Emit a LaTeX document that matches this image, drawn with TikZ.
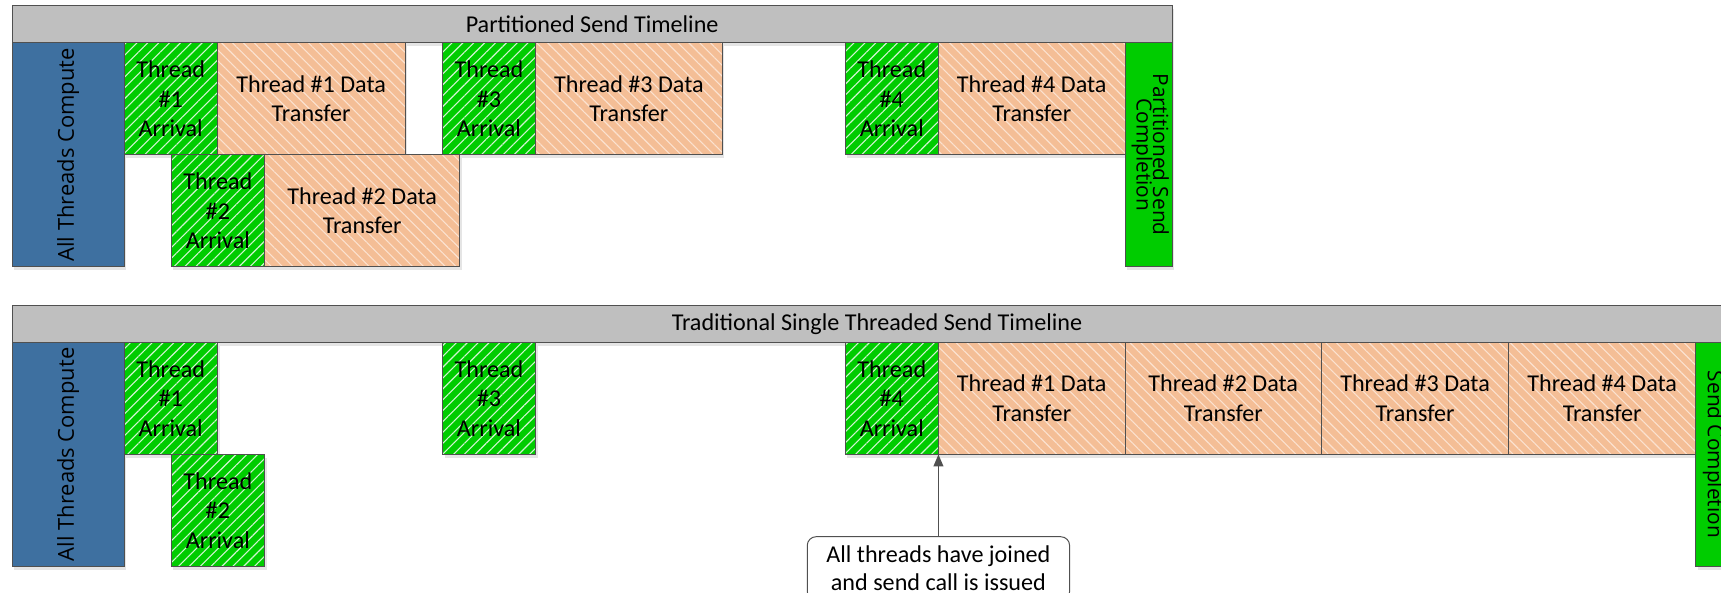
\documentclass[tikz,border=0pt]{standalone}
\usepackage{fontspec}
\setmainfont{Carlito}
\newfontfamily\sidefont{Open Sans}
\newcommand\sidetextfont{\sidefont\fontsize{19}{15}\selectfont\lineskiplimit=-50pt\relax}
\newcommand\computefont{\sidefont\fontsize{20}{24}\selectfont}
\usetikzlibrary{patterns.meta,shadows,arrows.meta}
\definecolor{hdrgray}{HTML}{BFBFBF}
\definecolor{edge}{HTML}{505050}
\definecolor{computeblue}{HTML}{3E70A0}
\definecolor{arrivegreen}{HTML}{00CC00}
\definecolor{xferpeach}{HTML}{F4BE96}
\definecolor{greenstripe}{HTML}{D0F5D0}
\definecolor{peachstripe}{HTML}{FBE2D0}

\begin{document}
\begin{tikzpicture}[x=1pt,y=-1pt,
  every node/.style={inner sep=0pt, outer sep=0pt, align=center,
    font=\fontsize{22}{27}\selectfont},
  outline/.style={postaction={draw=edge, line width=0.9pt}},
  blk/.style={anchor=north west,
    drop shadow={shadow xshift=2pt, shadow yshift=-3pt, fill=black!10, opacity=1}},
  header/.style={blk, fill=hdrgray, minimum height=34pt, outline},
  compute/.style={blk, fill=computeblue, minimum width=102pt, minimum height=204pt, outline},
  arrival/.style={blk, fill=arrivegreen, minimum width=85pt, minimum height=102pt,
    postaction={pattern={Lines[angle=45,distance=7pt,line width=1pt]}, pattern color=greenstripe},
    outline},
  xfer/.style={blk, fill=xferpeach, minimum height=102pt,
    postaction={pattern={Lines[angle=-45,distance=7pt,line width=1pt]}, pattern color=peachstripe},
    outline},
  done/.style={blk, fill=arrivegreen, minimum width=43pt, minimum height=204pt, outline},
  sidetext/.style={font=\sidetextfont},
  computetext/.style={font=\computefont, rotate=90},
  note/.style={draw=edge, line width=0.9pt, fill=white, rounded corners=8pt,
    anchor=north, minimum width=239pt, inner ysep=4pt, minimum height=58pt,
    font=\fontsize{22}{25.5}\selectfont},
  pointer/.style={draw=edge, line width=1.3pt, -{Triangle[length=11pt,width=9pt]}}
]
\useasboundingbox (0,0) rectangle (1568,540);
\fill[white] (0,0) rectangle (1568,540);

% ---- partitioned send timeline ----
\node[header, minimum width=1057pt] (ph) at (11,5) {Partitioned Send Timeline};
\node[compute] (pc) at (11,39) {};
\node[computetext] at (pc.center) {All Threads Compute};

\node[arrival] (p1a) at (113,39) {Thread\\\#1\\Arrival};
\node[xfer, minimum width=171pt] (p1x) at (p1a.north east) {Thread \#1 Data\\Transfer};
\node[arrival] (p3a) at (403,39) {Thread\\\#3\\Arrival};
\node[xfer, minimum width=170pt] (p3x) at (p3a.north east) {Thread \#3 Data\\Transfer};
\node[arrival] (p4a) at (770,39) {Thread\\\#4\\Arrival};
\node[xfer, minimum width=170pt] (p4x) at (p4a.north east) {Thread \#4 Data\\Transfer};
\node[done] (pd) at (p4x.north east) {};
\node[sidetext, rotate=-90] at ([xshift=1.5pt]pd.center) {Partitioned Send\\Completion};

\node[arrival] (p2a) at (156,141) {Thread\\\#2\\Arrival};
\node[xfer, minimum width=178pt] (p2x) at (p2a.north east) {Thread \#2 Data\\Transfer};

% ---- traditional single threaded send timeline ----
\node[header, minimum width=1576pt] (th) at (11,278) {Traditional Single Threaded Send Timeline};
\node[compute] (tc) at (11,312) {};
\node[computetext] at (tc.center) {All Threads Compute};

\node[arrival] (t1a) at (113,312) {Thread\\\#1\\Arrival};
\node[arrival] (t3a) at (403,312) {Thread\\\#3\\Arrival};
\node[arrival] (t4a) at (770,312) {Thread\\\#4\\Arrival};
\node[xfer, minimum width=170pt] (t1x) at (t4a.north east) {Thread \#1 Data\\Transfer};
\node[xfer, minimum width=179pt] (t2x) at (t1x.north east) {Thread \#2 Data\\Transfer};
\node[xfer, minimum width=170.5pt] (t3x) at (t2x.north east) {Thread \#3 Data\\Transfer};
\node[xfer, minimum width=170.5pt] (t4x) at (t3x.north east) {Thread \#4 Data\\Transfer};
\node[done] (td) at (t4x.north east) {};
\node[sidetext, rotate=-90, anchor=base] at (1556,414) {Send Completion};

\node[arrival] (t2a) at (156,414) {Thread\\\#2\\Arrival};

% ---- annotation ----
\node[note] (join) at (855,489) {All threads have joined\\and send call is issued};
\draw[pointer] (join.north) -- (t4a.south east);
\end{tikzpicture}
\end{document}
